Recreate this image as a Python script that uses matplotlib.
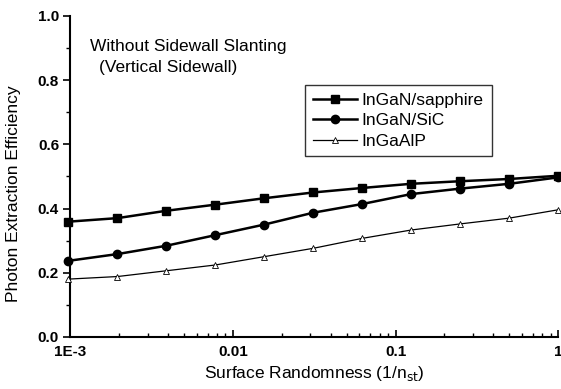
import numpy as np
import matplotlib
matplotlib.use("Agg")
import matplotlib.pyplot as plt
from matplotlib.ticker import LogLocator, MultipleLocator, FixedFormatter, FixedLocator

plt.rcParams["font.family"] = ["Liberation Sans", "DejaVu Sans"]

# surface randomness 1/n_st, doubling from 1/1024 up to 1
randomness = [1/1024, 1/512, 1/256, 1/128, 1/64, 1/32, 1/16, 1/8, 1/4, 1/2, 1.0]
sapphire = [0.359, 0.370, 0.393, 0.412, 0.432, 0.450, 0.464, 0.477, 0.485, 0.492, 0.502]
sic = [0.237, 0.258, 0.284, 0.317, 0.350, 0.387, 0.414, 0.445, 0.462, 0.477, 0.497]
ingaalp = [0.180, 0.188, 0.206, 0.224, 0.250, 0.276, 0.307, 0.333, 0.352, 0.370, 0.396]

x_ticks = [1e-3, 1e-2, 1e-1, 1]
x_labels = ["1E-3", "0.01", "0.1", "1"]

fig = plt.figure(figsize=(5.61, 3.89), dpi=100)
ax = fig.add_axes([0.125, 0.134, 0.870, 0.825])

ax.plot(randomness, sapphire, color="black", lw=1.8, marker="s", ms=6,
        label="InGaN/sapphire", clip_on=False, zorder=3)
ax.plot(randomness, sic, color="black", lw=1.8, marker="o", ms=6,
        label="InGaN/SiC", clip_on=False, zorder=3)
ax.plot(randomness, ingaalp, color="black", lw=0.9, marker="^", ms=5,
        mfc="white", mec="black", mew=0.6, label="InGaAlP",
        clip_on=False, zorder=3)

ax.set_xscale("log")
ax.set_xlim(1e-3, 1)
ax.set_ylim(0, 1.0)

ax.xaxis.set_major_locator(FixedLocator(x_ticks))
ax.xaxis.set_major_formatter(FixedFormatter(x_labels))
ax.xaxis.set_minor_locator(LogLocator(base=10, subs=np.arange(2, 10)))
ax.xaxis.set_minor_formatter(plt.NullFormatter())
ax.yaxis.set_major_locator(MultipleLocator(0.2))
ax.yaxis.set_minor_locator(MultipleLocator(0.1))
ax.yaxis.set_major_formatter(plt.FuncFormatter(lambda v, p: f"{v:.1f}"))

ax.spines["top"].set_visible(False)
ax.spines["right"].set_visible(False)
ax.spines["left"].set_linewidth(1.5)
ax.spines["bottom"].set_linewidth(1.5)

ax.tick_params(axis="y", which="major", direction="out", length=5, width=1.2,
               labelsize=11, pad=3)
ax.tick_params(axis="y", which="minor", direction="out", length=3, width=1)
ax.tick_params(axis="x", which="major", direction="in", length=5, width=1.2,
               labelsize=11, pad=6)
ax.tick_params(axis="x", which="minor", direction="in", length=3, width=1)
for lab in ax.get_xticklabels() + ax.get_yticklabels():
    lab.set_fontweight("bold")

ax.set_xlabel("Surface Randomness (1/n$_{\\mathrm{st}}$)", fontsize=12.5)
ax.xaxis.set_label_coords(0.5, -0.085)
ax.set_ylabel("Photon Extraction Efficiency", fontsize=12.5)
ax.yaxis.set_label_coords(-0.10, 0.445)

ax.text(0.04, 0.905, "Without Sidewall Slanting", transform=ax.transAxes,
        fontsize=12.5, va="center", ha="left")
ax.text(0.06, 0.838, "(Vertical Sidewall)", transform=ax.transAxes,
        fontsize=12.5, va="center", ha="left")

leg = ax.legend(loc="upper left", bbox_to_anchor=(0.482, 0.785), fontsize=12.5,
                frameon=True, fancybox=False, edgecolor="black",
                handlelength=2.5, handletextpad=0.3, borderpad=0.45,
                labelspacing=0.3, borderaxespad=0)
leg.get_frame().set_linewidth(1.0)

fig.savefig("out.png", dpi=100)
